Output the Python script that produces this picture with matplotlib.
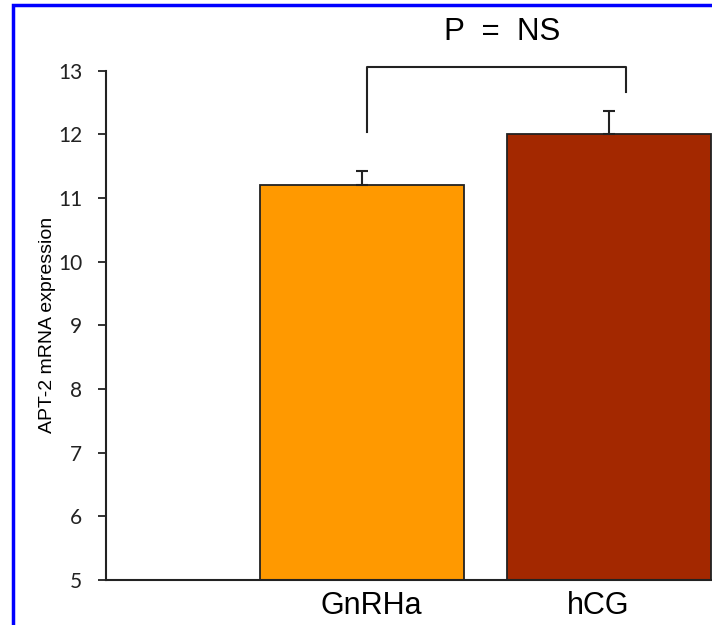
import matplotlib
matplotlib.use('Agg')
import matplotlib.pyplot as plt
from matplotlib.patches import Rectangle

# data
groups = ['GnRHa', 'hCG']
means = [11.2, 12.0]
errors = [0.23, 0.37]
colors = ['#FF9900', '#A32800']
yticks = [5, 6, 7, 8, 9, 10, 11, 12, 13]

# bracket over the bars (data coords)
bracket_x = [0.02, 0.02, 1.07, 1.07]
bracket_y = [12.03, 13.06, 13.06, 12.66]

fig = plt.figure(figsize=(7.12, 6.25), dpi=100)
ax = fig.add_axes([106 / 712, 45 / 625, 1 - 106 / 712, (580 - 70.7) / 625])

x = list(range(len(groups)))
ax.bar(x, means, width=0.826, color=colors, edgecolor='#222222', linewidth=1.3, zorder=2)
ax.errorbar(x, means, yerr=[[0, 0], errors], fmt='none', ecolor='#222222',
            elinewidth=1.5, capsize=4.5, capthick=1.5, zorder=3)

ax.plot(bracket_x, bracket_y, color='#222222', lw=1.5, clip_on=False)

ax.set_xlim(-1.036, 1.417)
ax.set_ylim(5, 13)
ax.set_yticks(yticks)
ax.set_yticklabels([str(v) for v in yticks], fontfamily='Lato', fontsize=15)
ax.tick_params(axis='y', direction='out', length=6, width=1.3, pad=11, colors='#222222')
# labels sit a little off the bar centres in the original
ax.set_xticks([0.036, 0.955])
ax.set_xticklabels(groups, fontfamily='Liberation Sans', fontsize=22)
ax.tick_params(axis='x', length=0, pad=8)

for s in ['top', 'right']:
    ax.spines[s].set_visible(False)
for s in ['left', 'bottom']:
    ax.spines[s].set_color('#222222')
    ax.spines[s].set_linewidth(1.5)

fig.text(48 / 712, 1 - 325 / 625, 'APT-2 mRNA expression', rotation=90,
         ha='center', va='center', fontfamily=['Liberation Sans', 'DejaVu Sans'], fontsize=14)
fig.text(502 / 712, 1 - 32 / 625, 'P  =  NS', ha='center', va='center',
         fontfamily='Liberation Sans', fontsize=22.5)

# blue frame of the original figure panel
fig.patches.append(Rectangle((13 / 712, -0.1), 1.2, 1.1 - 5 / 625,
                             transform=fig.transFigure, fill=False,
                             edgecolor='#0000FF', linewidth=2.5))

fig.savefig('out.png', dpi=100)
